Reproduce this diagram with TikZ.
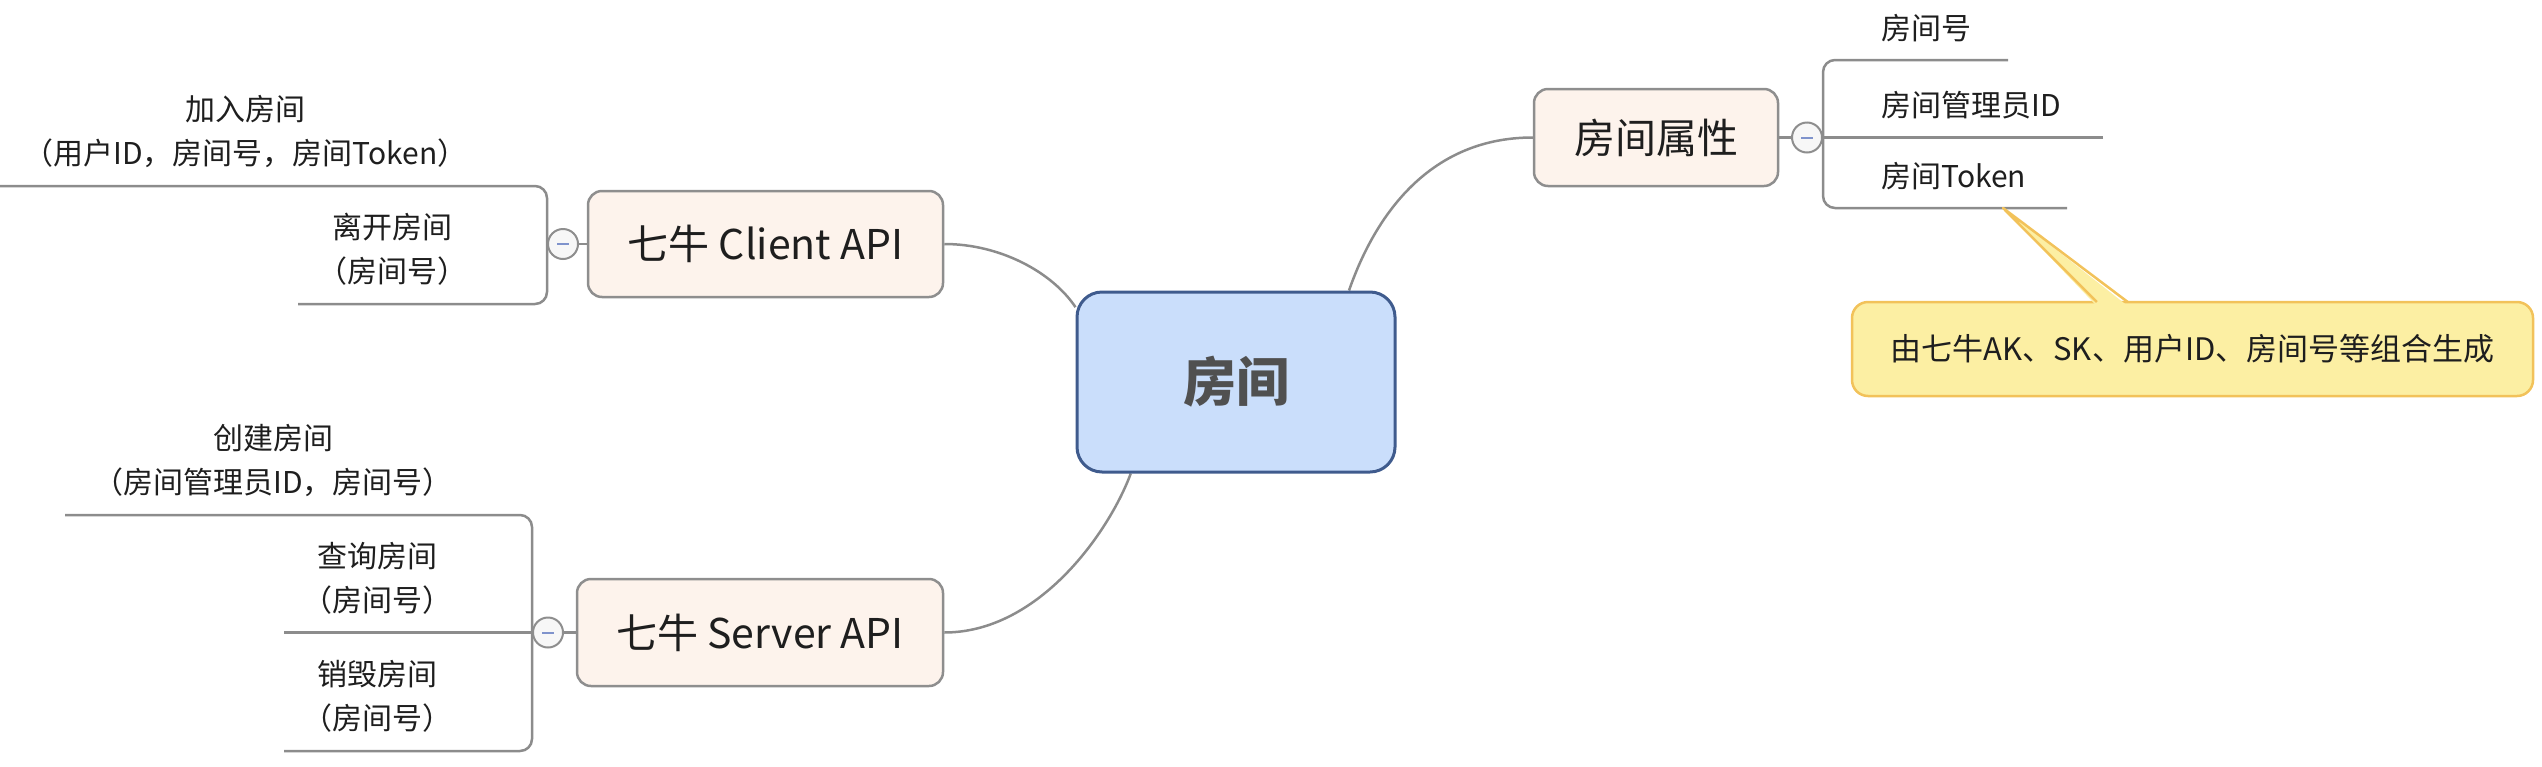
\documentclass[tikz,border=0pt]{standalone}
\usepackage{fontspec}
\setmainfont{Noto Sans CJK SC}
\usetikzlibrary{positioning,backgrounds,calc}

\definecolor{topicfill}{HTML}{FDF3EC}
\definecolor{topicline}{HTML}{8E8E8E}
\definecolor{rootfill}{HTML}{CADEFB}
\definecolor{rootline}{HTML}{3F5B8D}
\definecolor{roottext}{HTML}{505050}
\definecolor{notefill}{HTML}{FCEFA3}
\definecolor{noteline}{HTML}{F2C25A}
\definecolor{branch}{HTML}{8C8C8C}
\definecolor{minusblue}{HTML}{7F93CC}
\definecolor{leaftext}{HTML}{1E1E1E}

\begin{document}
\begin{tikzpicture}[x=1pt,y=-1pt,
  topic/.style={draw=topicline, fill=topicfill, line width=2.5pt, rounded corners=14pt,
    text=leaftext, font=\fontsize{41}{48}\selectfont, inner sep=0pt},
  leaf/.style={align=center, inner sep=0pt, text=leaftext, font=\fontsize{30}{44}\selectfont},
  fold/.style={circle, draw=topicline, fill=gray!6, line width=2pt, minimum size=30pt, inner sep=0pt,
    path picture={\draw[minusblue, line width=2pt] ([xshift=-6pt]path picture bounding box.center)
      -- ([xshift=6pt]path picture bounding box.center);}},
  branchline/.style={draw=branch, line width=2.5pt, rounded corners=12pt},
  link/.style={draw=branch, line width=2.5pt}]
\useasboundingbox (0,0) rectangle (2542,766);

% main topics
\node[draw=rootline, fill=rootfill, line width=3pt, rounded corners=25pt, minimum width=318pt,
  minimum height=180pt, text=roottext, font=\fontsize{53}{60}\selectfont\bfseries] (room) at (1236,382) {房间};
\node[topic, minimum width=355pt, minimum height=106pt] (client) at (765.5,244) {七牛 Client API};
\node[topic, minimum width=366pt, minimum height=107pt] (server) at (760,632.5) {七牛 Server API};
\node[topic, minimum width=244pt, minimum height=97pt] (attr) at (1656,137.5) {房间属性};

% fold markers
\node[fold] (clientfold) at (563,244) {};
\node[fold] (serverfold) at (548,632.5) {};
\node[fold] (attrfold) at (1807,137.5) {};

% free ends of the sub-branches
\coordinate (joinend) at (0,186);
\coordinate (leaveend) at (298,304);
\coordinate (createend) at (65,515);
\coordinate (queryend) at (284,632.5);
\coordinate (destroyend) at (284,751);
\coordinate (roomnoend) at (2008,60);
\coordinate (adminend) at (2103,137.5);
\coordinate (tokenend) at (2067,208);

\draw[branchline] (joinend) -| (clientfold.west) |- (leaveend);
\draw[branchline] (createend) -| (serverfold.west) |- (destroyend);
\draw[branchline] (queryend) -- (serverfold.west);
\draw[branchline] (roomnoend) -| (attrfold.east) |- (tokenend);
\draw[branchline] (adminend) -- (attrfold.east);
\draw[link] (clientfold) -- (client);
\draw[link] (serverfold) -- (server);
\draw[link] (attrfold) -- (attr);

% sub-topics
\node[leaf, anchor=south east] (join) at (468,168) {加入房间\\（用户ID，房间号，房间Token）};
\node[leaf, anchor=south east] (leave) at (468,286) {离开房间\\（房间号）};
\node[leaf, anchor=south east] (create) at (453,497) {创建房间\\（房间管理员ID，房间号）};
\node[leaf, anchor=south east] (query) at (453,614.5) {查询房间\\（房间号）};
\node[leaf, anchor=south east] (destroy) at (453,733) {销毁房间\\（房间号）};
\node[leaf, anchor=south west] (roomno) at (1881,42) {房间号};
\node[leaf, anchor=south west] (admin) at (1881,119.5) {房间管理员ID};
\node[leaf, anchor=south west] (token) at (1881,190) {房间Token};

% note on the token
\node[draw=noteline, fill=notefill, line width=2.5pt, rounded corners=16pt, minimum width=681pt,
  minimum height=94pt, text=leaftext, font=\fontsize{31}{36}\selectfont] (note) at (2192.5,349)
  {由七牛AK、SK、用户ID、房间号等组合生成};
\coordinate (tokentip) at (2003,208);
\coordinate (notebase1) at ($(note.north west)+(246,1.25)$);
\coordinate (notebase2) at ($(note.north west)+(277,1.25)$);
\fill[notefill] ($(notebase1)+(0,4)$) -- (tokentip) -- ($(notebase2)+(0,4)$) -- cycle;
\draw[noteline, line width=2.5pt, line join=round] (notebase1) -- (tokentip) -- (notebase2);

\begin{scope}[on background layer]
\draw[link] (client.east) .. controls (1000,244) and (1052,272) .. (room.155);
\draw[link] (server.east) .. controls (1040,632.5) and (1110,530) .. (room.221);
\draw[link] (room.39.5) .. controls (1370,230) and (1420,137.5) .. (attr.west);
\end{scope}
\end{tikzpicture}
\end{document}
